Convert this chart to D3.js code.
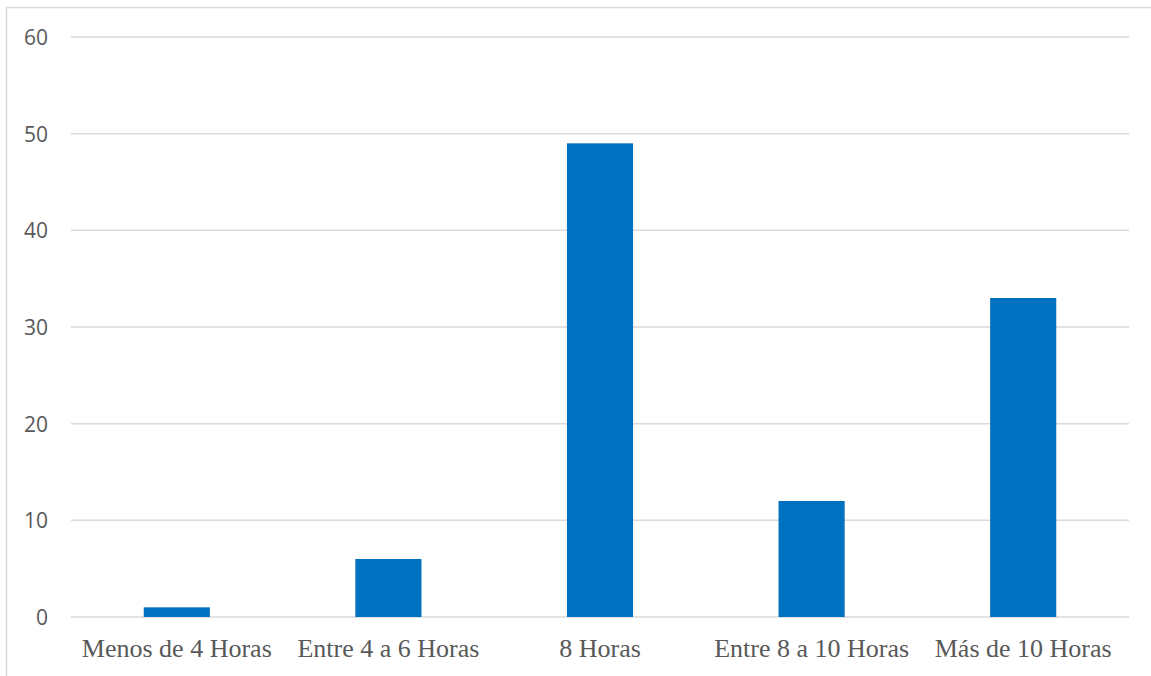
<!DOCTYPE html>
<html>
<head>
<meta charset="utf-8">
<script src="https://cdn.jsdelivr.net/npm/d3@7"></script>
<style>
  html, body { margin: 0; padding: 0; background: #fff; }
  svg { display: block; }
</style>
</head>
<body>
<svg id="chart" width="1151" height="676"></svg>
<script>
// Hours worked per day, count of respondents
const categories = ["Menos de 4 Horas", "Entre 4 a 6 Horas", "8 Horas", "Entre 8 a 10 Horas", "Más de 10 Horas"];
const values = [1, 6, 49, 12, 33];
const yTicks = [0, 10, 20, 30, 40, 50, 60];

const svg = d3.select("#chart");
const W = 1151, H = 676;
const plot = { left: 71, right: 1129, top: 37, bottom: 617 };

// Outer chart frame (only top and left edges fall within the frame)
svg.append("rect")
  .attr("x", 6.5).attr("y", 7.5)
  .attr("width", W + 10).attr("height", H + 10)
  .attr("fill", "#fff")
  .attr("stroke", "#d9d9d9").attr("stroke-width", 1.5);

const x = d3.scaleBand()
  .domain(categories)
  .range([plot.left, plot.right])
  .paddingInner(0.6875)
  .paddingOuter(0.34375);

const y = d3.scaleLinear()
  .domain([0, 60])
  .range([plot.bottom, plot.top]);

// Horizontal gridlines
svg.append("g")
  .selectAll("line")
  .data(yTicks)
  .join("line")
  .attr("x1", plot.left).attr("x2", plot.right)
  .attr("y1", d => y(d)).attr("y2", d => y(d))
  .attr("stroke", "#d9d9d9").attr("stroke-width", 1.5);

// Y-axis labels
const yAxis = d3.axisLeft(y).tickValues(yTicks).tickSize(0).tickPadding(0);
const gy = svg.append("g")
  .attr("transform", `translate(48,0)`)
  .call(yAxis);
gy.select(".domain").remove();
gy.selectAll("text")
  .attr("dy", "0.36em")
  .attr("font-family", "'Open Sans', 'Noto Sans', sans-serif")
  .attr("font-size", 21)
  .attr("fill", "#595959");

// Bars
svg.append("g")
  .selectAll("rect")
  .data(values)
  .join("rect")
  .attr("x", (d, i) => x(categories[i]))
  .attr("y", d => y(d))
  .attr("width", x.bandwidth())
  .attr("height", d => y(0) - y(d))
  .attr("fill", "#0070c0");

// X-axis category labels
const xAxis = d3.axisBottom(x).tickSize(0).tickPadding(0);
const gx = svg.append("g")
  .attr("transform", `translate(0,${plot.bottom + 40})`)
  .call(xAxis);
gx.select(".domain").remove();
gx.selectAll("text")
  .attr("dy", 0)
  .attr("font-family", "'Liberation Serif', 'Times New Roman', serif")
  .attr("font-size", 26)
  .attr("fill", "#595959");
</script>
</body>
</html>
